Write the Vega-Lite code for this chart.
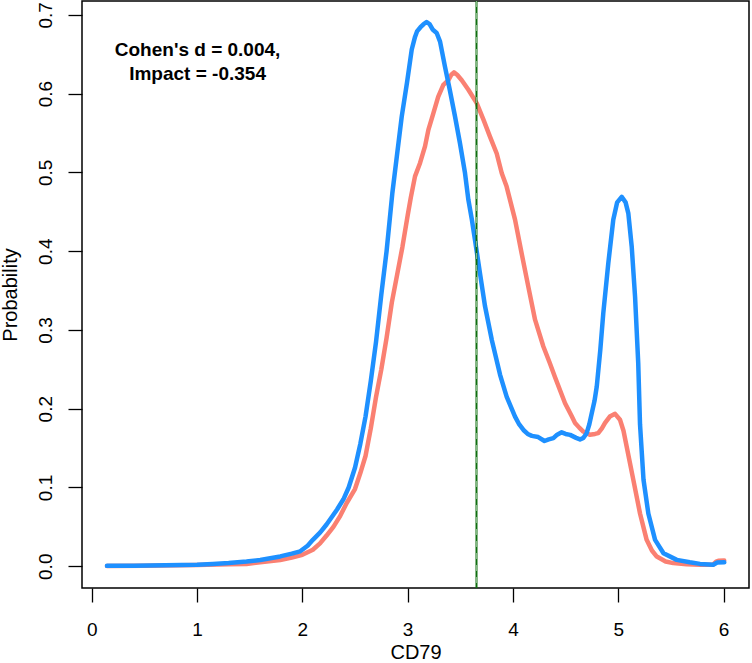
{
  "$schema": "https://vega.github.io/schema/vega-lite/v6.json",
  "width": 667,
  "height": 587,
  "autosize": {"type": "none"},
  "padding": {"left": 82, "top": 1, "right": 3, "bottom": 75},
  "background": "white",
  "config": {
    "view": {"stroke": "black", "strokeWidth": 1.5},
    "axis": {
      "grid": false,
      "domain": false,
      "tickColor": "black",
      "tickSize": 14,
      "tickWidth": 1.3,
      "labelFont": "Liberation Sans",
      "labelFontSize": 19,
      "labelColor": "black",
      "titleFont": "Liberation Sans",
      "titleFontSize": 20,
      "titleFontWeight": "normal",
      "titleColor": "black"
    }
  },
  "datasets": {
    "curves": [
      {"group": "Group 1", "x": 0.145, "y": 0.0003},
      {"group": "Group 1", "x": 0.5, "y": 0.0006},
      {"group": "Group 1", "x": 1.0, "y": 0.0015},
      {"group": "Group 1", "x": 1.3, "y": 0.0025},
      {"group": "Group 1", "x": 1.47, "y": 0.003},
      {"group": "Group 1", "x": 1.6, "y": 0.005},
      {"group": "Group 1", "x": 1.79, "y": 0.008},
      {"group": "Group 1", "x": 1.9, "y": 0.011},
      {"group": "Group 1", "x": 2.0, "y": 0.0145},
      {"group": "Group 1", "x": 2.1, "y": 0.021},
      {"group": "Group 1", "x": 2.168, "y": 0.029},
      {"group": "Group 1", "x": 2.23, "y": 0.039},
      {"group": "Group 1", "x": 2.295, "y": 0.05},
      {"group": "Group 1", "x": 2.36, "y": 0.064},
      {"group": "Group 1", "x": 2.42, "y": 0.08},
      {"group": "Group 1", "x": 2.5, "y": 0.098},
      {"group": "Group 1", "x": 2.55, "y": 0.118},
      {"group": "Group 1", "x": 2.6, "y": 0.14},
      {"group": "Group 1", "x": 2.65, "y": 0.175},
      {"group": "Group 1", "x": 2.7, "y": 0.215},
      {"group": "Group 1", "x": 2.75, "y": 0.25},
      {"group": "Group 1", "x": 2.8, "y": 0.29},
      {"group": "Group 1", "x": 2.85, "y": 0.335},
      {"group": "Group 1", "x": 2.9, "y": 0.37},
      {"group": "Group 1", "x": 2.95, "y": 0.405},
      {"group": "Group 1", "x": 3.0, "y": 0.445},
      {"group": "Group 1", "x": 3.03, "y": 0.468},
      {"group": "Group 1", "x": 3.07, "y": 0.495},
      {"group": "Group 1", "x": 3.118, "y": 0.512},
      {"group": "Group 1", "x": 3.165, "y": 0.533},
      {"group": "Group 1", "x": 3.197, "y": 0.554},
      {"group": "Group 1", "x": 3.244, "y": 0.575},
      {"group": "Group 1", "x": 3.29, "y": 0.596},
      {"group": "Group 1", "x": 3.339, "y": 0.611},
      {"group": "Group 1", "x": 3.387, "y": 0.617},
      {"group": "Group 1", "x": 3.415, "y": 0.624},
      {"group": "Group 1", "x": 3.44, "y": 0.627},
      {"group": "Group 1", "x": 3.47, "y": 0.624},
      {"group": "Group 1", "x": 3.514, "y": 0.617},
      {"group": "Group 1", "x": 3.577, "y": 0.605},
      {"group": "Group 1", "x": 3.656, "y": 0.588},
      {"group": "Group 1", "x": 3.72, "y": 0.567},
      {"group": "Group 1", "x": 3.78, "y": 0.546},
      {"group": "Group 1", "x": 3.846, "y": 0.524},
      {"group": "Group 1", "x": 3.894, "y": 0.499},
      {"group": "Group 1", "x": 3.94, "y": 0.482},
      {"group": "Group 1", "x": 4.02, "y": 0.44},
      {"group": "Group 1", "x": 4.083, "y": 0.397},
      {"group": "Group 1", "x": 4.146, "y": 0.355},
      {"group": "Group 1", "x": 4.21, "y": 0.313},
      {"group": "Group 1", "x": 4.289, "y": 0.279},
      {"group": "Group 1", "x": 4.35, "y": 0.258},
      {"group": "Group 1", "x": 4.4, "y": 0.24},
      {"group": "Group 1", "x": 4.495, "y": 0.207},
      {"group": "Group 1", "x": 4.56, "y": 0.19},
      {"group": "Group 1", "x": 4.59, "y": 0.182},
      {"group": "Group 1", "x": 4.63, "y": 0.176},
      {"group": "Group 1", "x": 4.668, "y": 0.171},
      {"group": "Group 1", "x": 4.73, "y": 0.167},
      {"group": "Group 1", "x": 4.78, "y": 0.168},
      {"group": "Group 1", "x": 4.81, "y": 0.169},
      {"group": "Group 1", "x": 4.845, "y": 0.175},
      {"group": "Group 1", "x": 4.875, "y": 0.182},
      {"group": "Group 1", "x": 4.92, "y": 0.19},
      {"group": "Group 1", "x": 4.97, "y": 0.1935},
      {"group": "Group 1", "x": 5.017, "y": 0.186},
      {"group": "Group 1", "x": 5.05, "y": 0.172},
      {"group": "Group 1", "x": 5.08, "y": 0.152},
      {"group": "Group 1", "x": 5.143, "y": 0.11},
      {"group": "Group 1", "x": 5.207, "y": 0.067},
      {"group": "Group 1", "x": 5.27, "y": 0.0335},
      {"group": "Group 1", "x": 5.32, "y": 0.02},
      {"group": "Group 1", "x": 5.366, "y": 0.0123},
      {"group": "Group 1", "x": 5.45, "y": 0.006},
      {"group": "Group 1", "x": 5.523, "y": 0.004},
      {"group": "Group 1", "x": 5.65, "y": 0.0025},
      {"group": "Group 1", "x": 5.777, "y": 0.0018},
      {"group": "Group 1", "x": 5.9, "y": 0.002},
      {"group": "Group 1", "x": 5.93, "y": 0.006},
      {"group": "Group 1", "x": 5.95, "y": 0.007},
      {"group": "Group 1", "x": 6.007, "y": 0.0073},
      {"group": "Group 2", "x": 0.145, "y": 0.0005},
      {"group": "Group 2", "x": 0.4, "y": 0.0008},
      {"group": "Group 2", "x": 0.7, "y": 0.0012},
      {"group": "Group 2", "x": 1.0, "y": 0.002},
      {"group": "Group 2", "x": 1.15, "y": 0.003},
      {"group": "Group 2", "x": 1.3, "y": 0.004},
      {"group": "Group 2", "x": 1.47, "y": 0.006},
      {"group": "Group 2", "x": 1.6, "y": 0.008},
      {"group": "Group 2", "x": 1.79, "y": 0.0125},
      {"group": "Group 2", "x": 1.9, "y": 0.016},
      {"group": "Group 2", "x": 1.98, "y": 0.019},
      {"group": "Group 2", "x": 2.05, "y": 0.026},
      {"group": "Group 2", "x": 2.1, "y": 0.0335},
      {"group": "Group 2", "x": 2.17, "y": 0.043},
      {"group": "Group 2", "x": 2.23, "y": 0.053},
      {"group": "Group 2", "x": 2.33, "y": 0.072},
      {"group": "Group 2", "x": 2.39, "y": 0.085},
      {"group": "Group 2", "x": 2.44, "y": 0.1},
      {"group": "Group 2", "x": 2.5, "y": 0.125},
      {"group": "Group 2", "x": 2.55, "y": 0.155},
      {"group": "Group 2", "x": 2.6, "y": 0.19},
      {"group": "Group 2", "x": 2.65, "y": 0.235},
      {"group": "Group 2", "x": 2.7, "y": 0.285},
      {"group": "Group 2", "x": 2.75, "y": 0.345},
      {"group": "Group 2", "x": 2.8, "y": 0.4},
      {"group": "Group 2", "x": 2.855, "y": 0.474},
      {"group": "Group 2", "x": 2.897, "y": 0.52},
      {"group": "Group 2", "x": 2.944, "y": 0.571},
      {"group": "Group 2", "x": 2.994, "y": 0.614},
      {"group": "Group 2", "x": 3.039, "y": 0.656},
      {"group": "Group 2", "x": 3.07, "y": 0.672},
      {"group": "Group 2", "x": 3.089, "y": 0.679},
      {"group": "Group 2", "x": 3.12, "y": 0.684},
      {"group": "Group 2", "x": 3.15, "y": 0.688},
      {"group": "Group 2", "x": 3.18, "y": 0.691},
      {"group": "Group 2", "x": 3.21, "y": 0.688},
      {"group": "Group 2", "x": 3.24, "y": 0.681},
      {"group": "Group 2", "x": 3.276, "y": 0.677},
      {"group": "Group 2", "x": 3.308, "y": 0.666},
      {"group": "Group 2", "x": 3.355, "y": 0.634},
      {"group": "Group 2", "x": 3.4, "y": 0.605},
      {"group": "Group 2", "x": 3.45, "y": 0.571},
      {"group": "Group 2", "x": 3.497, "y": 0.537},
      {"group": "Group 2", "x": 3.545, "y": 0.499},
      {"group": "Group 2", "x": 3.577, "y": 0.465},
      {"group": "Group 2", "x": 3.61, "y": 0.44},
      {"group": "Group 2", "x": 3.64, "y": 0.414},
      {"group": "Group 2", "x": 3.687, "y": 0.372},
      {"group": "Group 2", "x": 3.735, "y": 0.33},
      {"group": "Group 2", "x": 3.8, "y": 0.287},
      {"group": "Group 2", "x": 3.878, "y": 0.243},
      {"group": "Group 2", "x": 3.941, "y": 0.215},
      {"group": "Group 2", "x": 4.02, "y": 0.19},
      {"group": "Group 2", "x": 4.06, "y": 0.18},
      {"group": "Group 2", "x": 4.1, "y": 0.173},
      {"group": "Group 2", "x": 4.14, "y": 0.168},
      {"group": "Group 2", "x": 4.18, "y": 0.1655},
      {"group": "Group 2", "x": 4.24, "y": 0.164},
      {"group": "Group 2", "x": 4.3, "y": 0.159},
      {"group": "Group 2", "x": 4.34, "y": 0.161},
      {"group": "Group 2", "x": 4.384, "y": 0.1626},
      {"group": "Group 2", "x": 4.42, "y": 0.167},
      {"group": "Group 2", "x": 4.463, "y": 0.17},
      {"group": "Group 2", "x": 4.5, "y": 0.168},
      {"group": "Group 2", "x": 4.543, "y": 0.1668},
      {"group": "Group 2", "x": 4.6, "y": 0.163},
      {"group": "Group 2", "x": 4.637, "y": 0.161},
      {"group": "Group 2", "x": 4.67, "y": 0.163},
      {"group": "Group 2", "x": 4.7, "y": 0.169},
      {"group": "Group 2", "x": 4.725, "y": 0.18},
      {"group": "Group 2", "x": 4.748, "y": 0.194},
      {"group": "Group 2", "x": 4.775, "y": 0.21},
      {"group": "Group 2", "x": 4.796, "y": 0.228},
      {"group": "Group 2", "x": 4.83, "y": 0.275},
      {"group": "Group 2", "x": 4.858, "y": 0.321},
      {"group": "Group 2", "x": 4.906, "y": 0.385},
      {"group": "Group 2", "x": 4.953, "y": 0.44},
      {"group": "Group 2", "x": 4.99, "y": 0.462},
      {"group": "Group 2", "x": 5.033, "y": 0.469},
      {"group": "Group 2", "x": 5.07, "y": 0.462},
      {"group": "Group 2", "x": 5.096, "y": 0.448},
      {"group": "Group 2", "x": 5.128, "y": 0.406},
      {"group": "Group 2", "x": 5.16, "y": 0.342},
      {"group": "Group 2", "x": 5.19, "y": 0.258},
      {"group": "Group 2", "x": 5.207, "y": 0.18},
      {"group": "Group 2", "x": 5.24, "y": 0.11},
      {"group": "Group 2", "x": 5.286, "y": 0.067},
      {"group": "Group 2", "x": 5.35, "y": 0.0335},
      {"group": "Group 2", "x": 5.43, "y": 0.0166},
      {"group": "Group 2", "x": 5.556, "y": 0.0081},
      {"group": "Group 2", "x": 5.68, "y": 0.005},
      {"group": "Group 2", "x": 5.777, "y": 0.003},
      {"group": "Group 2", "x": 5.903, "y": 0.002},
      {"group": "Group 2", "x": 5.94, "y": 0.0047},
      {"group": "Group 2", "x": 6.007, "y": 0.005}
    ],
    "cutoff": [{"x": 3.654}],
    "note": [{"x": 1.005, "y": 0.6556, "label": "Cohen's d = 0.004,\nImpact = -0.354"}]
  },
  "layer": [
    {
      "data": {"name": "curves"},
      "mark": {"type": "line", "strokeWidth": 4.5, "strokeJoin": "round", "strokeCap": "round", "clip": true},
      "encoding": {
        "x": {
          "field": "x", "type": "quantitative",
          "scale": {"domain": [-0.0926, 6.242], "nice": false, "zero": false},
          "axis": {
            "title": "CD79",
            "values": [0, 1, 2, 3, 4, 5, 6],
            "format": "d",
            "labelBaseline": "middle",
            "labelPadding": 27,
            "titleX": 333.5,
            "titleY": 64,
            "titleBaseline": "middle",
            "titleAlign": "center"
          }
        },
        "y": {
          "field": "y", "type": "quantitative",
          "scale": {"domain": [-0.0276, 0.7176], "nice": false, "zero": false},
          "axis": {
            "title": "Probability",
            "values": [0, 0.1, 0.2, 0.3, 0.4, 0.5, 0.6, 0.7],
            "format": ".1f",
            "labelAngle": -90,
            "labelAlign": "center",
            "labelBaseline": "middle",
            "labelPadding": 23,
            "titleAngle": -90,
            "titleX": -72,
            "titleY": 293.5,
            "titleBaseline": "middle",
            "titleAlign": "center"
          }
        },
        "color": {
          "field": "group", "type": "nominal",
          "scale": {"domain": ["Group 1", "Group 2"], "range": ["#FA8072", "#1E90FF"]},
          "legend": null
        }
      }
    },
    {
      "data": {"name": "cutoff"},
      "mark": {"type": "rule", "color": "#0f6e0f", "strokeWidth": 2},
      "encoding": {"x": {"field": "x", "type": "quantitative"}}
    },
    {
      "data": {"name": "cutoff"},
      "mark": {"type": "rule", "color": "#b9d8b9", "strokeWidth": 0.7, "strokeDash": [6, 6]},
      "encoding": {"x": {"field": "x", "type": "quantitative"}}
    },
    {
      "data": {"name": "note"},
      "mark": {"type": "text", "font": "Liberation Sans", "fontSize": 19, "fontWeight": "bold", "color": "black", "align": "center", "baseline": "middle", "lineBreak": "\n", "lineHeight": 24},
      "encoding": {
        "x": {"field": "x", "type": "quantitative"},
        "y": {"field": "y", "type": "quantitative"},
        "text": {"field": "label"}
      }
    }
  ]
}
